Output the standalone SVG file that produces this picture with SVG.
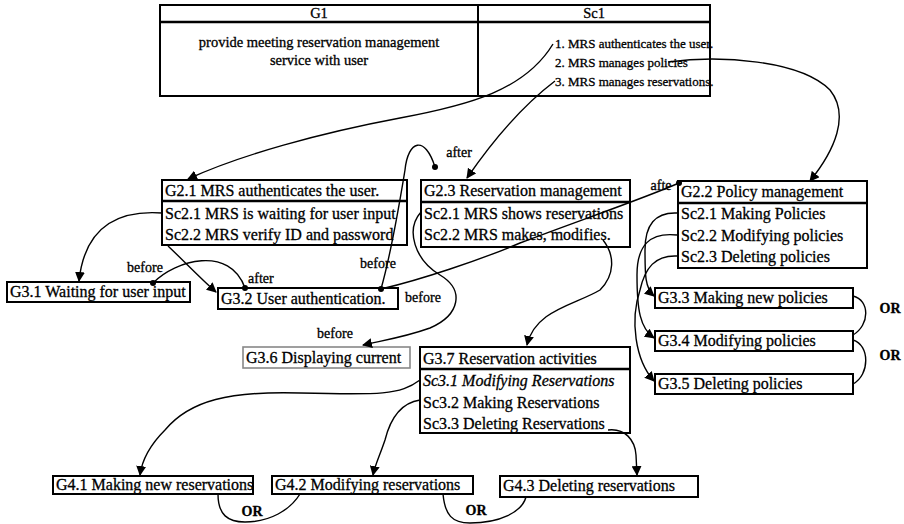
<svg xmlns="http://www.w3.org/2000/svg" width="904" height="524" viewBox="0 0 904 524">
<style>
text{font-family:"Liberation Serif","Times New Roman",serif;fill:#000;stroke:#000;stroke-width:0.3}
.t{font-size:16px}
.s{font-size:13px}
.h{font-size:14.5px}
.lbl{font-size:14px}
.or{font-size:14px;font-weight:bold}
.box{fill:#fff;stroke:#000;stroke-width:2}
.sep{stroke:#000;stroke-width:2.5}
.c{fill:none;stroke:#000;stroke-width:1.4}
.dot{fill:#000}
</style>
<defs>
<marker id="ah" viewBox="0 0 10 10" refX="9" refY="5" markerWidth="10" markerHeight="10" markerUnits="userSpaceOnUse" orient="auto">
<path d="M0,0 L10,5 L0,10 z" fill="#000"/>
</marker>
</defs>
<rect width="904" height="524" fill="#fff"/>

<g id="table">
<rect class="box" x="160" y="5" width="550" height="91"/>
<line class="sep" x1="160" y1="22" x2="710" y2="22"/>
<line class="sep" x1="478" y1="5" x2="478" y2="96" style="stroke-width:2"/>
<text class="h" x="319" y="18" text-anchor="middle">G1</text>
<text class="h" x="594" y="18" text-anchor="middle">Sc1</text>
<text class="h" x="319" y="47" text-anchor="middle">provide meeting reservation management</text>
<text class="h" x="319" y="65" text-anchor="middle">service with user</text>
<text class="s" x="555" y="48">1. MRS authenticates the user.</text>
<text class="s" x="555" y="67">2. MRS manages policies</text>
<text class="s" x="555" y="86">3. MRS manages reservations.</text>
</g>

<g id="G2.1">
<rect class="box" x="162" y="180" width="245" height="65"/>
<line class="sep" x1="162" y1="201" x2="407" y2="201"/>
<text class="t" x="165" y="196">G2.1 MRS authenticates the user.</text>
<text class="t" x="165" y="219">Sc2.1 MRS is waiting for user input</text>
<text class="t" x="165" y="240">Sc2.2 MRS verify ID and password</text>
</g>

<g id="G2.3">
<rect class="box" x="421" y="180" width="209" height="67"/>
<line class="sep" x1="421" y1="202" x2="630" y2="202"/>
<text class="t" x="424" y="196">G2.3 Reservation management</text>
<text class="t" x="424" y="219">Sc2.1 MRS shows reservations</text>
<text class="t" x="424" y="240">Sc2.2 MRS makes, modifies.</text>
</g>

<g id="G2.2">
<rect class="box" x="678" y="181" width="189" height="87"/>
<line class="sep" x1="678" y1="203" x2="867" y2="203"/>
<text class="t" x="681" y="197">G2.2 Policy management</text>
<text class="t" x="681" y="219">Sc2.1 Making Policies</text>
<text class="t" x="681" y="241">Sc2.2 Modifying policies</text>
<text class="t" x="681" y="262">Sc2.3 Deleting policies</text>
</g>

<g id="G3.1">
<rect class="box" x="7" y="282" width="183" height="20"/>
<text class="t" x="10" y="297">G3.1 Waiting for user input</text>
</g>

<g id="G3.2">
<rect class="box" x="218" y="288" width="180" height="21"/>
<text class="t" x="221" y="304">G3.2 User authentication.</text>
</g>

<g id="G3.6">
<rect x="243" y="347" width="167" height="21" fill="#fff" stroke="#888" stroke-width="1.6"/>
<text class="t" x="246" y="363">G3.6 Displaying current</text>
</g>

<g id="G3.7">
<rect class="box" x="420" y="347" width="210" height="86"/>
<line class="sep" x1="420" y1="369" x2="630" y2="369"/>
<text class="t" x="423" y="364">G3.7 Reservation activities</text>
<text class="t" x="423" y="386" font-style="italic">Sc3.1 Modifying Reservations</text>
<text class="t" x="423" y="408">Sc3.2 Making Reservations</text>
<text class="t" x="423" y="429">Sc3.3 Deleting Reservations</text>
</g>

<g id="G3.3">
<rect class="box" x="655" y="288" width="198" height="20"/>
<text class="t" x="658" y="303">G3.3 Making new policies</text>
</g>
<g id="G3.4">
<rect class="box" x="655" y="331" width="198" height="20"/>
<text class="t" x="658" y="346">G3.4 Modifying policies</text>
</g>
<g id="G3.5">
<rect class="box" x="655" y="374" width="198" height="20"/>
<text class="t" x="658" y="389">G3.5 Deleting policies</text>
</g>

<g id="G4.1">
<rect class="box" x="53" y="476" width="200" height="18"/>
<text class="t" x="56" y="490">G4.1 Making new reservations</text>
</g>
<g id="G4.2">
<rect class="box" x="272" y="476" width="201" height="18"/>
<text class="t" x="275" y="490">G4.2 Modifying reservations</text>
</g>
<g id="G4.3">
<rect class="box" x="500" y="476" width="198" height="21"/>
<text class="t" x="503" y="491">G4.3 Deleting reservations</text>
</g>

<g id="connectors">
<path class="c" marker-end="url(#ah)" d="M553,44 C525,90 470,105 400,118 C320,133 240,155 188,179"/>
<path class="c" marker-end="url(#ah)" d="M555,81 C530,100 500,130 467,178"/>
<path class="c" marker-end="url(#ah)" d="M668,62 C720,55 800,60 830,90 C850,115 835,150 810,181"/>
<path class="c" marker-end="url(#ah)" d="M162,213 C120,210 85,225 79,281"/>
<path class="c" marker-end="url(#ah)" d="M168,246 C185,262 200,278 216,292"/>
<path class="c" d="M153,283 C175,260 230,245 245,288"/>
<circle class="dot" cx="153" cy="283" r="3"/>
<circle class="dot" cx="245" cy="288" r="3"/>
<path class="c" d="M381,289 C392,250 400,200 405,170 C408,140 425,135 435,167"/>
<circle class="dot" cx="381" cy="289" r="3"/>
<circle class="dot" cx="435" cy="167" r="3"/>
<path class="c" d="M381,289 C420,280 480,260 520,243 C580,220 640,200 679,183"/>
<circle class="dot" cx="679" cy="183" r="3"/>
<path class="c" marker-end="url(#ah)" d="M421,212 C405,230 415,260 440,275 C465,290 460,315 430,328 C405,337 385,340 363,345"/>
<path class="c" marker-end="url(#ah)" d="M603,240 C615,255 615,275 600,290 C575,305 535,310 527,345"/>
<path class="c" marker-end="url(#ah)" d="M677,213 C655,212 645,225 645,250 C645,275 645,288 654,296"/>
<path class="c" marker-end="url(#ah)" d="M677,235 C650,232 637,245 637,275 C637,310 640,328 654,338"/>
<path class="c" marker-end="url(#ah)" d="M677,256 C655,255 645,268 640,290 C630,320 635,360 654,381"/>
<path class="c" d="M853,296 C870,300 870,325 853,335"/>
<path class="c" d="M853,340 C870,345 870,375 853,384"/>
<path class="c" marker-end="url(#ah)" d="M420,380 C400,395 380,395 300,393 C230,391 190,400 165,430 C150,445 142,460 140,475"/>
<path class="c" marker-end="url(#ah)" d="M420,400 C400,403 390,420 385,440 C380,455 375,465 373,475"/>
<path class="c" marker-end="url(#ah)" d="M608,430 C625,428 635,440 636,455 L637,475"/>
<path class="c" d="M218,494 C218,515 228,522 245,522 C270,522 290,510 300,494"/>
<path class="c" d="M443,494 C445,515 452,523 470,523 C500,523 522,512 526,497"/>
</g>

<g id="labels">
<text class="lbl" x="459" y="157" text-anchor="middle">after</text>
<text class="lbl" x="661" y="190" text-anchor="middle">afte</text>
<text class="lbl" x="145" y="272" text-anchor="middle">before</text>
<text class="lbl" x="248" y="283">after</text>
<text class="lbl" x="378" y="268" text-anchor="middle">before</text>
<text class="lbl" x="423" y="302" text-anchor="middle">before</text>
<text class="lbl" x="335" y="338" text-anchor="middle">before</text>
<text class="or" x="890" y="313" text-anchor="middle">OR</text>
<text class="or" x="890" y="360" text-anchor="middle">OR</text>
<text class="or" x="252" y="516" text-anchor="middle">OR</text>
<text class="or" x="476" y="515" text-anchor="middle">OR</text>
</g>
</svg>
